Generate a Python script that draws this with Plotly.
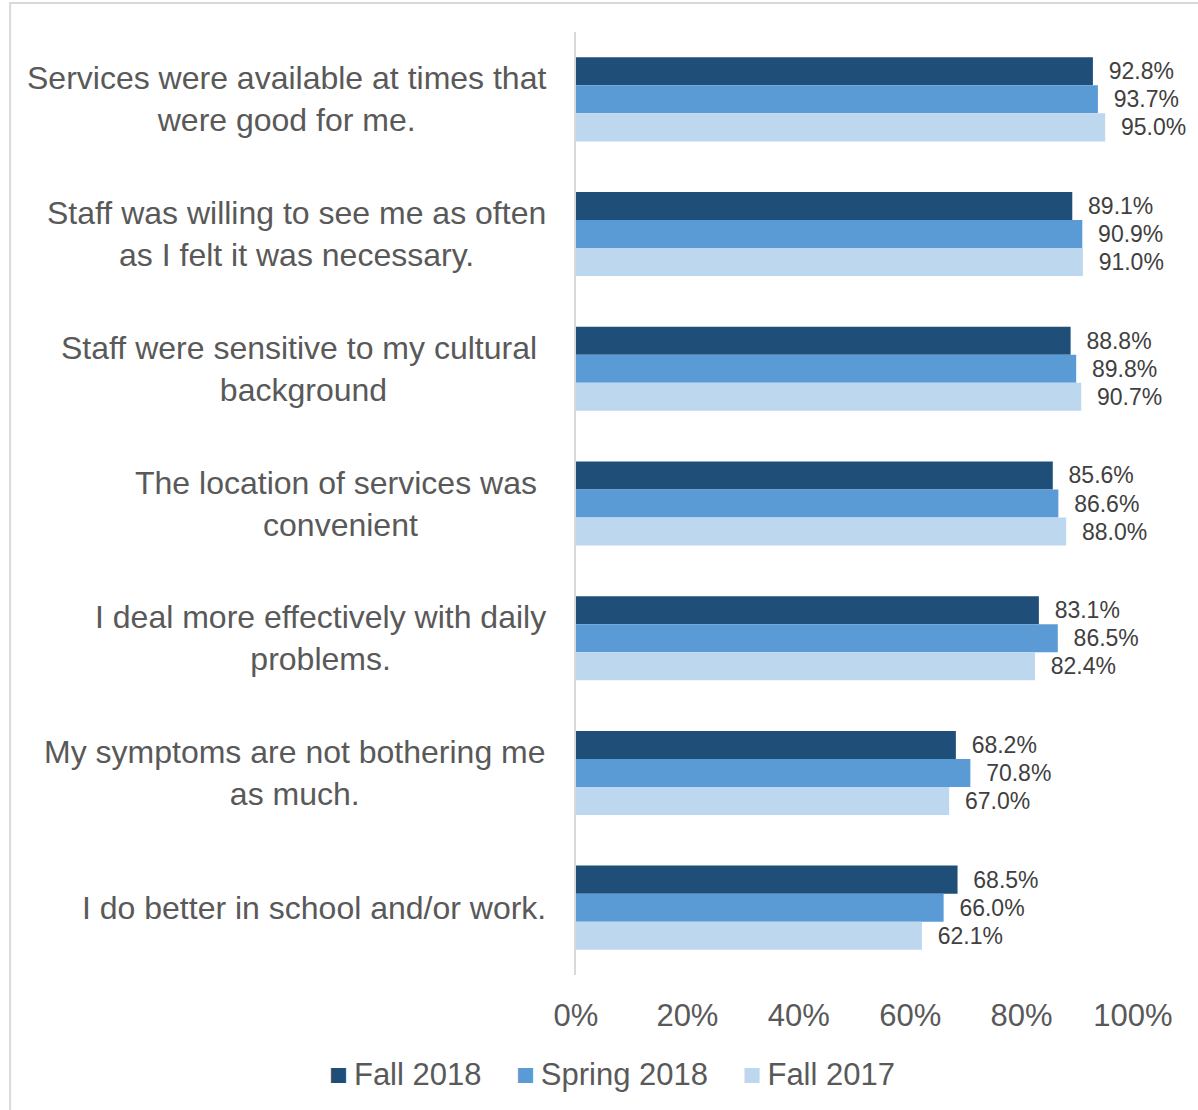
import plotly.graph_objects as go

# Survey statements (top to bottom)
categories = [
    "Services were available at times that<br>were good for me.",
    "Staff was willing to see me as often<br>as I felt it was necessary.",
    "Staff were sensitive to my cultural\u00a0<br>background",
    "The location of services was\u00a0<br>convenient",
    "I deal more effectively with daily<br>problems.",
    "My symptoms are not bothering me<br>as much.",
    "I do better in school and/or work.",
]

# Percent agreeing, by survey period
fall_2018 = [92.8, 89.1, 88.8, 85.6, 83.1, 68.2, 68.5]
spring_2018 = [93.7, 90.9, 89.8, 86.6, 86.5, 70.8, 66.0]
fall_2017 = [95.0, 91.0, 90.7, 88.0, 82.4, 67.0, 62.1]

series_names = ["Fall 2018", "Spring 2018", "Fall 2017"]
series_values = [fall_2018, spring_2018, fall_2017]
series_colors = ["#1F4E79", "#5B9BD5", "#BDD7EE"]

tick_values = [0, 20, 40, 60, 80, 100]
tick_labels = ["0%", "20%", "40%", "60%", "80%", "100%"]

FONT = "Liberation Sans, Arial, sans-serif"
TEXT_GRAY = "#595959"
NBSP = "\u00a0"
THIN = "\u2009"

# Category keys without line breaks for the axis; wrapped text drawn as annotations
cat_keys = [c.replace("<br>", " ").replace(NBSP, "").strip() for c in categories]

fig = go.Figure()
for name, vals, color in zip(series_names, series_values, series_colors):
    fig.add_trace(go.Bar(
        name=name,
        y=cat_keys,
        x=vals,
        orientation="h",
        marker=dict(color=color, line=dict(width=0)),
        text=[f"{NBSP}{NBSP}{v:.1f}%" for v in vals],
        textposition="outside",
        textfont=dict(family=FONT, size=23, color="#404040"),
        constraintext="none",
        cliponaxis=False,
        hoverinfo="skip",
        showlegend=False,
    ))

# Centered, wrapped category labels left of the axis
for key, label in zip(cat_keys, categories):
    fig.add_annotation(
        x=0, xref="paper", y=key, yref="y",
        text=label, showarrow=False,
        xanchor="right", yanchor="middle", align="center",
        xshift=-28,
        font=dict(family=FONT, size=32, color=TEXT_GRAY),
    )

# Legend row: colored squares followed by series names
legend_parts = [
    f"<span style='color:{c}'>\u25a0</span>{THIN}{n}" for n, c in zip(series_names, series_colors)
]
fig.add_annotation(
    xref="paper", yref="paper", x=0.065, y=-0.105,
    xanchor="center", yanchor="middle", showarrow=False,
    text=(NBSP * 4).join(legend_parts),
    font=dict(family=FONT, size=31, color=TEXT_GRAY),
)

# Light frame around the chart area
fig.add_shape(
    type="rect", xref="paper", yref="paper",
    x0=-1.016, x1=1.12, y0=-0.15, y1=1.0308,
    line=dict(color="#D9D9D9", width=2), fillcolor="rgba(0,0,0,0)",
    layer="below",
)

fig.update_layout(
    width=1198, height=1110,
    margin=dict(l=576, r=65, t=32, b=135),
    paper_bgcolor="white", plot_bgcolor="white",
    barmode="group", bargap=0.376, bargroupgap=0,
    font=dict(family=FONT, color=TEXT_GRAY),
    showlegend=False,
    xaxis=dict(
        range=[0, 100], tickvals=tick_values, ticktext=tick_labels,
        showgrid=False, zeroline=False, showline=False,
        ticks="", tickfont=dict(family=FONT, size=31, color=TEXT_GRAY),
        ticklabelstandoff=19,
    ),
    yaxis=dict(
        categoryorder="array", categoryarray=cat_keys,
        autorange="reversed",
        showticklabels=False, showgrid=False, zeroline=False,
        showline=True, linecolor="#D9D9D9", linewidth=2, ticks="",
    ),
)

fig.write_html("out.html")
